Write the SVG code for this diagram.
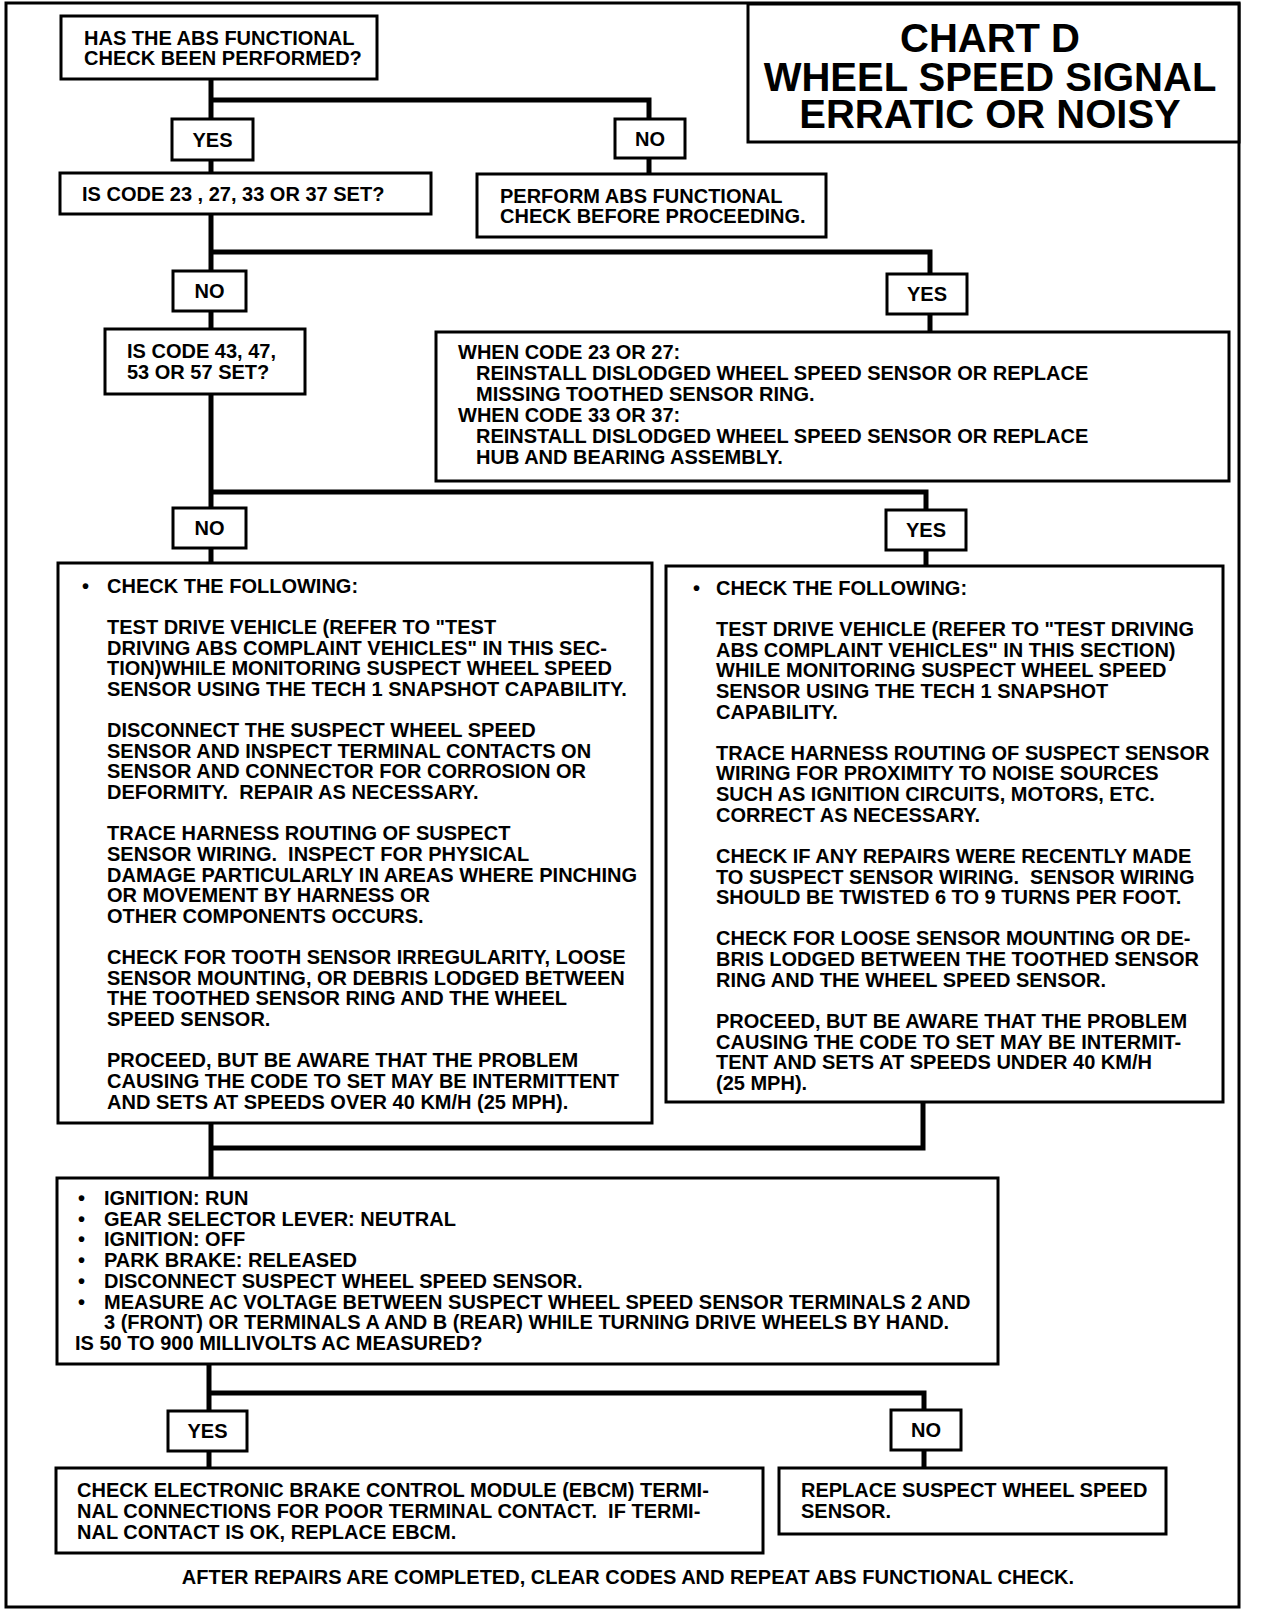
<svg xmlns="http://www.w3.org/2000/svg" width="1264" height="1614" viewBox="0 0 1264 1614">
<style>
text{font-family:"Liberation Sans",Arial,sans-serif;font-weight:bold;font-size:20px;fill:#000}
.title{font-size:40px;text-anchor:middle}
.lbl{text-anchor:middle}
.box{fill:#fff;stroke:#000;stroke-width:3}
.frame{fill:none;stroke:#000;stroke-width:3}
.conn{fill:none;stroke:#000;stroke-width:5;stroke-linejoin:miter}
</style>
<rect width="1264" height="1614" fill="#fff"/>
<rect id="frame" class="frame" x="6" y="3" width="1233" height="1604"/>
<g id="title">
<rect class="box" x="748" y="4" width="491" height="138"/>
<text class="title" x="990" y="52">CHART D</text>
<text class="title" x="990" y="91">WHEEL SPEED SIGNAL</text>
<text class="title" x="990" y="128">ERRATIC OR NOISY</text>
</g>
<g id="connectors">
<path class="conn" d="M211 79V173"/>
<path class="conn" d="M211 100H649V175"/>
<path class="conn" d="M211 214V329"/>
<path class="conn" d="M211 252H930V332"/>
<path class="conn" d="M211 395V563"/>
<path class="conn" d="M211 492H926V566"/>
<path class="conn" d="M211 1123V1178"/>
<path class="conn" d="M923 1102V1148H211"/>
<path class="conn" d="M209 1364V1468"/>
<path class="conn" d="M209 1393H924V1468"/>
</g>
<g id="n-abs-check">
<rect class="box" x="61" y="16" width="316" height="63"/>
<text x="84" y="45">HAS THE ABS FUNCTIONAL</text>
<text x="84" y="65">CHECK BEEN PERFORMED?</text>
</g>
<g id="l-yes1"><rect class="box" x="172" y="119" width="81" height="41"/><text class="lbl" x="212.5" y="146.5">YES</text></g>
<g id="l-no1"><rect class="box" x="615" y="119" width="70" height="39"/><text class="lbl" x="650" y="145.5">NO</text></g>
<g id="n-code23">
<rect class="box" x="60" y="173" width="371" height="41"/>
<text x="82" y="201">IS CODE 23 , 27, 33 OR 37 SET?</text>
</g>
<g id="n-perform">
<rect class="box" x="477" y="174" width="349" height="63"/>
<text x="500" y="203">PERFORM ABS FUNCTIONAL</text>
<text x="500" y="223">CHECK BEFORE PROCEEDING.</text>
</g>
<g id="l-no2"><rect class="box" x="173" y="271" width="73" height="40"/><text class="lbl" x="209.5" y="298">NO</text></g>
<g id="l-yes2"><rect class="box" x="887" y="274" width="80" height="40"/><text class="lbl" x="927" y="301">YES</text></g>
<g id="n-code43">
<rect class="box" x="105" y="329" width="200" height="65"/>
<text x="127" y="358">IS CODE 43, 47,</text>
<text x="127" y="379">53 OR 57 SET?</text>
</g>
<g id="n-reinstall">
<rect class="box" x="436" y="332" width="793" height="149"/>
<text x="458" y="359">WHEN CODE 23 OR 27:</text>
<text x="476" y="380">REINSTALL DISLODGED WHEEL SPEED SENSOR OR REPLACE</text>
<text x="476" y="401">MISSING TOOTHED SENSOR RING.</text>
<text x="458" y="422">WHEN CODE 33 OR 37:</text>
<text x="476" y="443">REINSTALL DISLODGED WHEEL SPEED SENSOR OR REPLACE</text>
<text x="476" y="464">HUB AND BEARING ASSEMBLY.</text>
</g>
<g id="l-no3"><rect class="box" x="173" y="508" width="73" height="40"/><text class="lbl" x="209.5" y="535">NO</text></g>
<g id="l-yes3"><rect class="box" x="886" y="510" width="80" height="40"/><text class="lbl" x="926" y="537">YES</text></g>
<g id="n-check-left">
<rect class="box" x="58" y="563" width="594" height="560"/>
<text x="82" y="592.7">•</text>
<text x="107" y="592.7">CHECK THE FOLLOWING:</text>
<text x="107" y="634">TEST DRIVE VEHICLE (REFER TO "TEST</text>
<text x="107" y="654.6">DRIVING ABS COMPLAINT VEHICLES" IN THIS SEC-</text>
<text x="107" y="675.2">TION)WHILE MONITORING SUSPECT WHEEL SPEED</text>
<text x="107" y="695.9">SENSOR USING THE TECH 1 SNAPSHOT CAPABILITY.</text>
<text x="107" y="737.1">DISCONNECT THE SUSPECT WHEEL SPEED</text>
<text x="107" y="757.7">SENSOR AND INSPECT TERMINAL CONTACTS ON</text>
<text x="107" y="778.4">SENSOR AND CONNECTOR FOR CORROSION OR</text>
<text x="107" y="799">DEFORMITY.&#160; REPAIR AS NECESSARY.</text>
<text x="107" y="840.3">TRACE HARNESS ROUTING OF SUSPECT</text>
<text x="107" y="860.9">SENSOR WIRING.&#160; INSPECT FOR PHYSICAL</text>
<text x="107" y="881.5">DAMAGE PARTICULARLY IN AREAS WHERE PINCHING</text>
<text x="107" y="902.2">OR MOVEMENT BY HARNESS OR</text>
<text x="107" y="922.8">OTHER COMPONENTS OCCURS.</text>
<text x="107" y="964">CHECK FOR TOOTH SENSOR IRREGULARITY, LOOSE</text>
<text x="107" y="984.7">SENSOR MOUNTING, OR DEBRIS LODGED BETWEEN</text>
<text x="107" y="1005.3">THE TOOTHED SENSOR RING AND THE WHEEL</text>
<text x="107" y="1025.9">SPEED SENSOR.</text>
<text x="107" y="1067.2">PROCEED, BUT BE AWARE THAT THE PROBLEM</text>
<text x="107" y="1087.8">CAUSING THE CODE TO SET MAY BE INTERMITTENT</text>
<text x="107" y="1108.5">AND SETS AT SPEEDS OVER 40 KM/H (25 MPH).</text>
</g>
<g id="n-check-right">
<rect class="box" x="666" y="566" width="557" height="536"/>
<text x="693" y="594.7">•</text>
<text x="716" y="594.7">CHECK THE FOLLOWING:</text>
<text x="716" y="636">TEST DRIVE VEHICLE (REFER TO "TEST DRIVING</text>
<text x="716" y="656.6">ABS COMPLAINT VEHICLES" IN THIS SECTION)</text>
<text x="716" y="677.2">WHILE MONITORING SUSPECT WHEEL SPEED</text>
<text x="716" y="697.9">SENSOR USING THE TECH 1 SNAPSHOT</text>
<text x="716" y="718.5">CAPABILITY.</text>
<text x="716" y="759.7">TRACE HARNESS ROUTING OF SUSPECT SENSOR</text>
<text x="716" y="780.4">WIRING FOR PROXIMITY TO NOISE SOURCES</text>
<text x="716" y="801">SUCH AS IGNITION CIRCUITS, MOTORS, ETC.</text>
<text x="716" y="821.6">CORRECT AS NECESSARY.</text>
<text x="716" y="862.9">CHECK IF ANY REPAIRS WERE RECENTLY MADE</text>
<text x="716" y="883.5">TO SUSPECT SENSOR WIRING.&#160; SENSOR WIRING</text>
<text x="716" y="904.2">SHOULD BE TWISTED 6 TO 9 TURNS PER FOOT.</text>
<text x="716" y="945.4">CHECK FOR LOOSE SENSOR MOUNTING OR DE-</text>
<text x="716" y="966">BRIS LODGED BETWEEN THE TOOTHED SENSOR</text>
<text x="716" y="986.7">RING AND THE WHEEL SPEED SENSOR.</text>
<text x="716" y="1027.9">PROCEED, BUT BE AWARE THAT THE PROBLEM</text>
<text x="716" y="1048.6">CAUSING THE CODE TO SET MAY BE INTERMIT-</text>
<text x="716" y="1069.2">TENT AND SETS AT SPEEDS UNDER 40 KM/H</text>
<text x="716" y="1089.8">(25 MPH).</text>
</g>
<g id="n-measure">
<rect class="box" x="57" y="1178" width="941" height="186"/>
<text x="78" y="1205">•</text><text x="104" y="1205">IGNITION: RUN</text>
<text x="78" y="1225.7">•</text><text x="104" y="1225.7">GEAR SELECTOR LEVER: NEUTRAL</text>
<text x="78" y="1246.4">•</text><text x="104" y="1246.4">IGNITION: OFF</text>
<text x="78" y="1267.1">•</text><text x="104" y="1267.1">PARK BRAKE: RELEASED</text>
<text x="78" y="1287.8">•</text><text x="104" y="1287.8">DISCONNECT SUSPECT WHEEL SPEED SENSOR.</text>
<text x="78" y="1308.5">•</text><text x="104" y="1308.5">MEASURE AC VOLTAGE BETWEEN SUSPECT WHEEL SPEED SENSOR TERMINALS 2 AND</text>
<text x="104" y="1329.2">3 (FRONT) OR TERMINALS A AND B (REAR) WHILE TURNING DRIVE WHEELS BY HAND.</text>
<text x="75" y="1349.9">IS 50 TO 900 MILLIVOLTS AC MEASURED?</text>
</g>
<g id="l-yes4"><rect class="box" x="168" y="1411" width="79" height="40"/><text class="lbl" x="207.5" y="1438">YES</text></g>
<g id="l-no4"><rect class="box" x="891" y="1410" width="70" height="40"/><text class="lbl" x="926" y="1437">NO</text></g>
<g id="n-ebcm">
<rect class="box" x="56" y="1468" width="707" height="85"/>
<text x="77" y="1497">CHECK ELECTRONIC BRAKE CONTROL MODULE (EBCM) TERMI-</text>
<text x="77" y="1518">NAL CONNECTIONS FOR POOR TERMINAL CONTACT.&#160; IF TERMI-</text>
<text x="77" y="1539">NAL CONTACT IS OK, REPLACE EBCM.</text>
</g>
<g id="n-replace">
<rect class="box" x="779" y="1468" width="387" height="66"/>
<text x="801" y="1497">REPLACE SUSPECT WHEEL SPEED</text>
<text x="801" y="1518">SENSOR.</text>
</g>
<g id="footer">
<text class="lbl" x="628" y="1584">AFTER REPAIRS ARE COMPLETED, CLEAR CODES AND REPEAT ABS FUNCTIONAL CHECK.</text>
</g>
</svg>
